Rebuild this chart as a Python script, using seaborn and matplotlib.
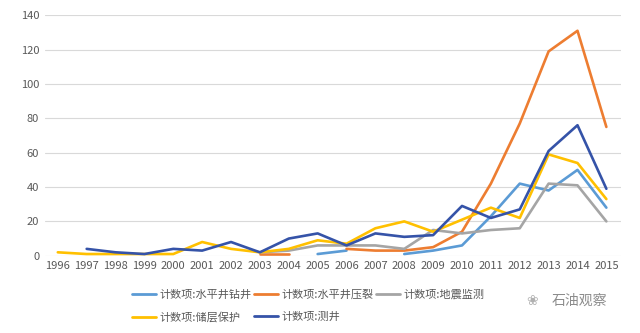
import numpy as np
import pandas as pd
import matplotlib
matplotlib.use("Agg")
import matplotlib.pyplot as plt
from matplotlib.lines import Line2D
import seaborn as sns

nan = np.nan
years = list(range(1996, 2016))
series_names = ["计数项:水平井钻井", "计数项:水平井压裂", "计数项:地震监测", "计数项:储层保护", "计数项:测井"]
drilling = [nan, nan, nan, nan, nan, nan, nan, nan, nan, 1, 3, nan, 1, 3, 6, 23, 42, 38, 50, 28]
fracturing = [nan, nan, nan, nan, nan, nan, nan, 1, 1, nan, 4, 3, 3, 5, 14, 42, 77, 119, 131, 75]
seismic = [nan, nan, nan, nan, nan, nan, nan, 2, 3, 6, 6, 6, 4, 15, 13, 15, 16, 42, 41, 20]
reservoir = [2, 1, 1, 1, 1, 8, 4, 2, 4, 9, 7, 16, 20, 14, 21, 28, 22, 59, 54, 33]
logging = [nan, 4, 2, 1, 4, 3, 8, 2, 10, 13, 6, 13, 11, 12, 29, 22, 27, 61, 76, 39]
colors = ["#5B9BD5", "#ED7D31", "#A5A5A5", "#FFC000", "#3553A8"]

sns.set_theme(style="white")
plt.rcParams["font.family"] = ["Noto Sans CJK SC", "DejaVu Sans"]

rows = []
for name, vals in zip(series_names, [drilling, fracturing, seismic, reservoir, logging]):
    seg = 0
    prev_nan = True
    for y, v in zip(years, vals):
        if np.isnan(v):
            prev_nan = True
            continue
        if prev_nan:
            seg += 1
            prev_nan = False
        rows.append({"year": y, "value": v, "series": name, "seg": f"{name}_{seg}"})
df = pd.DataFrame(rows)

fig = plt.figure(figsize=(6.4, 3.33), dpi=100)
ax = fig.add_axes([0.07, 0.232, 0.90, 0.722])
sns.lineplot(data=df, x="year", y="value", hue="series", units="seg", estimator=None,
             palette=dict(zip(series_names, colors)), hue_order=series_names,
             linewidth=1.9, ax=ax, legend=False)

ax.set_xlim(1995.55, 2015.5)
ax.set_ylim(0, 140)
ax.set_yticks(range(0, 141, 20))
ax.set_xticks(years)
ax.set_xticklabels([str(y) for y in years])
ax.grid(axis="y", color="#D9D9D9", linewidth=0.8)
ax.grid(axis="x", visible=False)
for s in ax.spines.values():
    s.set_visible(False)
ax.tick_params(axis="both", length=0, labelsize=8, colors="#595959", pad=4)
ax.set_xlabel("")
ax.set_ylabel("")

handles = [Line2D([0], [0], color=c, linewidth=2.0) for c in colors]
order = [0, 3, 1, 4, 2]
leg = fig.legend([handles[i] for i in order], [series_names[i] for i in order],
                 ncol=3, loc="upper left", bbox_to_anchor=(0.197, 0.149),
                 frameon=False, fontsize=8, handlelength=2.2, handletextpad=0.3,
                 columnspacing=0.2, labelspacing=1.15, borderpad=0)
for t in leg.get_texts():
    t.set_color("#595959")

fig.text(0.862, 0.097, "石油观察", fontsize=10, color="#8C8C8C", va="center", ha="left")
fig.text(0.822, 0.097, "\u2740", fontsize=10, color="#B0B0B0", va="center", ha="left",
         family=["DejaVu Sans"])

fig.savefig("out.png", dpi=100)
